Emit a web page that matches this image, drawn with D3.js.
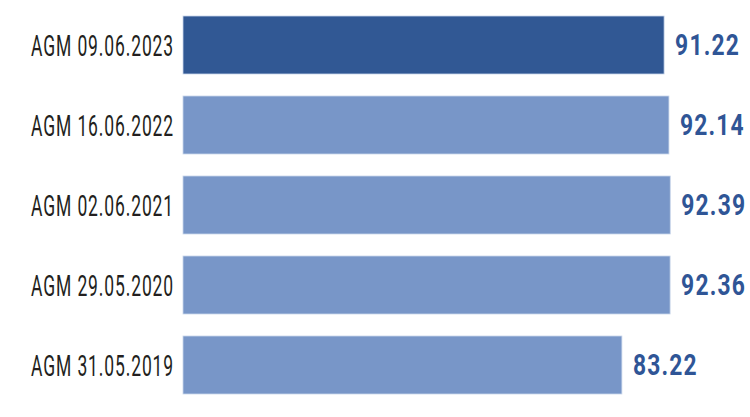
<!DOCTYPE html>
<html><head><meta charset="utf-8">
<script src="https://cdn.jsdelivr.net/npm/d3@7"></script>
<style>body{margin:0;background:#fff}</style>
</head><body>
<svg id="c" width="750" height="417"></svg>
<script>
const categories = ["AGM 09.06.2023","AGM 16.06.2022","AGM 02.06.2021","AGM 29.05.2020","AGM 31.05.2019"];
const values = [91.22, 92.14, 92.39, 92.36, 83.22];
const highlight = [true, false, false, false, false];

const svg = d3.select("#c");
const x = d3.scaleLinear().domain([0, 100]).range([183, 710.4]);
const y = d3.scaleBand().domain(categories).range([16, 394]).paddingInner(0.275).paddingOuter(0);

const data = categories.map((c,i)=>({c, v: values[i], h: highlight[i]}));

svg.selectAll("rect.bar").data(data).join("rect")
  .attr("class","bar")
  .attr("x", x(0))
  .attr("y", d=>y(d.c))
  .attr("width", d=>x(d.v)-x(0))
  .attr("height", y.bandwidth())
  .attr("fill", d=>d.h ? "#315894" : "#7896c8")
  .attr("stroke", "#c9d6ea").attr("stroke-width", 0.8);

const fontFam = "Roboto, 'Liberation Sans', sans-serif";

// category labels, horizontally condensed
const cats = svg.selectAll("text.cat").data(data).join("text")
  .attr("class","cat")
  .attr("text-anchor","end")
  .attr("dy","0.35em")
  .attr("font-family", fontFam)
  .attr("font-size", 30)
  .attr("letter-spacing", 1.5)
  .attr("fill", "#231f20")
  .text(d=>d.c);
const w0 = cats.node().getBBox().width;
const sxC = 143 / w0;
cats.attr("transform", d=>`translate(${x(0)-9},${y(d.c)+y.bandwidth()/2}) scale(${sxC},1)`);

const vals = svg.selectAll("text.val").data(data).join("text")
  .attr("class","val")
  .attr("dy","0.35em")
  .attr("font-family", fontFam)
  .attr("font-weight", "bold")
  .attr("font-size", 29)
  .attr("letter-spacing", 1.5)
  .attr("fill", "#2f5596")
  .text(d=>d3.format(".2f")(d.v));
const w1 = vals.node().getBBox().width;
const sxV = 65 / w1;
vals.attr("transform", d=>`translate(${x(d.v)+11},${y(d.c)+y.bandwidth()/2}) scale(${sxV},1)`);
</script>
</body></html>
